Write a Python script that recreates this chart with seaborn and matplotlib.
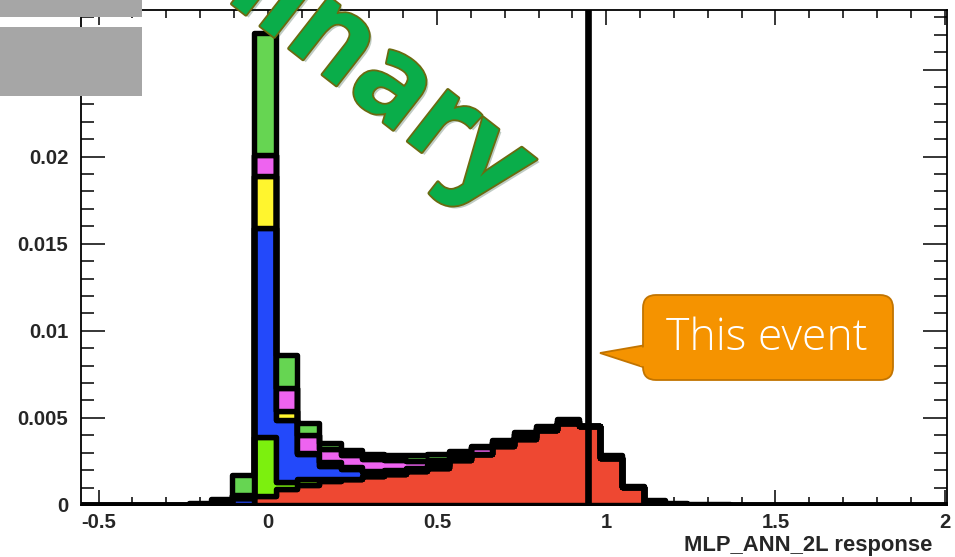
import numpy as np
import pandas as pd
import matplotlib
matplotlib.use("Agg")
import matplotlib.pyplot as plt
import matplotlib.patheffects as pe
from matplotlib.patches import FancyBboxPatch, Polygon, Rectangle
from matplotlib.transforms import IdentityTransform
from matplotlib.ticker import MultipleLocator, FixedLocator
import seaborn as sns

# ---------------------------------------------------------------- data
# 40 equal-width bins of the classifier response
edges = np.linspace(-0.553, 2.007, 41)
centers = 0.5 * (edges[:-1] + edges[1:])

signal = [0, 0, 0, 0, 0, 0, 0, 0, 0.0005, 0.0009,
          0.00112, 0.00138, 0.00148, 0.00167, 0.00176, 0.00195, 0.00214, 0.0026, 0.00291, 0.00337,
          0.0038, 0.00429, 0.00472, 0.00453, 0.00267, 0.00105, 0.0002, 0, 0, 0,
          0, 0, 0, 0, 0, 0, 0, 0, 0, 0]
bkg_lime = [0, 0, 0, 0, 0, 0, 0, 0, 0.0034, 0.0004,
            0.00036, 0.0001, 0, 0, 0, 0, 0, 0, 0, 0,
            0, 0, 0, 0, 0, 0, 0, 0, 0, 0,
            0, 0, 0, 0, 0, 0, 0, 0, 0, 0]
bkg_blue = [0, 0, 0, 0, 0, 0, 0.0001, 0.0004, 0.0120, 0.0036,
            0.00144, 0.00077, 0.0006, 0.0002, 0.0002, 0.00015, 0.0001, 0.00008, 0.00003, 0.0001,
            0.0001, 0, 0, 0, 0, 0, 0, 0, 0, 0,
            0, 0, 0, 0, 0, 0, 0, 0, 0, 0]
bkg_yellow = [0, 0, 0, 0, 0, 0, 0, 0, 0.0030, 0.0005,
              0.00007, 0.0002, 0.0001, 0.0001, 0.00006, 0.00005, 0.00003, 0, 0, 0,
              0, 0, 0, 0, 0, 0, 0, 0, 0, 0,
              0, 0, 0, 0, 0, 0, 0, 0, 0, 0]
bkg_magenta = [0, 0, 0, 0, 0, 0, 0, 0.0002, 0.0012, 0.0013,
               0.00103, 0.00077, 0.00067, 0.00067, 0.00055, 0.00036, 0.00033, 0.0002, 0.00037, 0.00014,
               0.00015, 0.00013, 0.0001, 0, 0.0001, 0, 0, 0, 0, 0,
               0, 0, 0, 0, 0, 0, 0, 0, 0, 0]
bkg_green = [0, 0, 0, 0, 0, 0.0001, 0.00024, 0.0011, 0.0070, 0.0019,
             0.00069, 0.00034, 0.00028, 0.0003, 0.00028, 0.00034, 0.00033, 0.0002, 0.00006, 0.0001,
             0.00012, 0.00013, 0.00011, 0.00003, 0.0001, 0.00005, 0.0001, 0.00012, 0.00006, 0.00006,
             0, 0, 0, 0, 0, 0, 0, 0, 0, 0]

samples = ["bkg_green", "bkg_magenta", "bkg_yellow", "bkg_blue", "bkg_lime", "signal"]
colors = ["#66D552", "#EE63F0", "#FFF52E", "#2349FA", "#7CF00E", "#EE4832"]
series = [bkg_green, bkg_magenta, bkg_yellow, bkg_blue, bkg_lime, signal]

event_response = 0.947

x_ticks = [-0.5, 0, 0.5, 1, 1.5, 2]
x_ticklabels = ["-0.5", "0", "0.5", "1", "1.5", "2"]
y_ticks = [0, 0.005, 0.01, 0.015, 0.02, 0.025]
y_ticklabels = ["0", "0.005", "0.01", "0.015", "0.02", "0.025"]

df = pd.concat(
    [pd.DataFrame({"response": centers, "weight": vals, "sample": name})
     for name, vals in zip(samples, series)],
    ignore_index=True,
)

# ---------------------------------------------------------------- figure
sns.set_theme(style="white")
plt.rcParams["font.family"] = ["Liberation Sans", "DejaVu Sans"]

W, H = 955, 557
fig = plt.figure(figsize=(W / 100, H / 100), dpi=100)
ax = fig.add_axes([80.7 / W, 1 - 505 / H, (947 - 80.7) / W, (505 - 10) / H])

sns.histplot(
    data=df, x="response", weights="weight", hue="sample",
    hue_order=samples, palette=dict(zip(samples, colors)),
    bins=list(edges), multiple="stack", element="step", fill=True, alpha=1,
    edgecolor="black", linewidth=3.9, legend=False, ax=ax,
)

ax.axvline(event_response, color="black", lw=4.8, zorder=4)

ax.set_xlim(edges[0], edges[-1])
ax.set_ylim(0, 0.02842)
ax.set_ylabel("")
ax.set_xlabel("MLP_ANN_2L response", fontsize=15.8, fontweight="bold", loc="right")
ax.xaxis.set_label_coords((932 - 80.7) / (947 - 80.7), (505 - 545) / (505 - 10))
ax.xaxis.label.set_va("center")

ax.xaxis.set_major_locator(FixedLocator(x_ticks))
ax.set_xticklabels(x_ticklabels)
ax.xaxis.set_minor_locator(MultipleLocator(0.1))
ax.yaxis.set_major_locator(FixedLocator(y_ticks))
ax.set_yticklabels(y_ticklabels)
ax.yaxis.set_minor_locator(MultipleLocator(0.001))

ax.tick_params(which="both", direction="in", top=True, right=True,
               bottom=True, left=True, width=1.1, color="black")
ax.tick_params(axis="x", which="major", length=11, pad=5.5)
ax.tick_params(axis="x", which="minor", length=5.5)
ax.tick_params(axis="y", which="major", length=17, pad=9)
ax.tick_params(axis="y", which="minor", length=9.5)
for lab in ax.get_xticklabels() + ax.get_yticklabels():
    lab.set_fontweight("bold")
    lab.set_fontsize(14.6)
for sp in ax.spines.values():
    sp.set_color("black")
    sp.set_linewidth(1.3)

# ---------------------------------------------------------------- overlays
ident = IdentityTransform()

def P(px, py):
    return (px, H - py)

# grey boxes in the upper-left corner
for (x0, y0, x1, y1) in [(0, 0, 142, 17), (0, 27, 142, 96)]:
    fig.add_artist(Rectangle(P(x0, y1), x1 - x0, y1 - y0, transform=ident,
                             facecolor="#A6A6A6", edgecolor="none", zorder=5))

# "Preliminary" watermark
fig.text(*P(497, 211), "Preliminary", transform=ident, rotation=-38,
         rotation_mode="anchor", ha="right", va="baseline", fontsize=86,
         family=["Open Sans", "DejaVu Sans"], fontweight="bold",
         color="#0AAD4A", zorder=6,
         path_effects=[pe.SimplePatchShadow(offset=(2, -2), alpha=0.25),
                       pe.withStroke(linewidth=2.6, foreground="#6B6A10")])

# callout pointing at the event line
orange, orange_edge = "#F59300", "#C27400"
fig.add_artist(Polygon([P(646, 345), P(600, 353), P(646, 368)], closed=True,
                       transform=ident, facecolor=orange, edgecolor=orange_edge,
                       lw=1.3, zorder=6))
fig.add_artist(FancyBboxPatch(P(643, 380), 893 - 643, 380 - 295,
                              boxstyle="round,pad=0,rounding_size=13",
                              transform=ident, facecolor=orange,
                              edgecolor=orange_edge, lw=1.3, zorder=7))
fig.add_artist(Polygon([P(648, 346.5), P(640, 348), P(640, 366), P(648, 366.5)],
                       closed=True, transform=ident, facecolor=orange,
                       edgecolor="none", zorder=8))
fig.text(*P(767, 339), "This event", transform=ident, ha="center", va="center",
         fontsize=32, color="white", family=["Open Sans", "DejaVu Sans"],
         fontweight="light", zorder=9)

fig.savefig("out.png", dpi=100)
